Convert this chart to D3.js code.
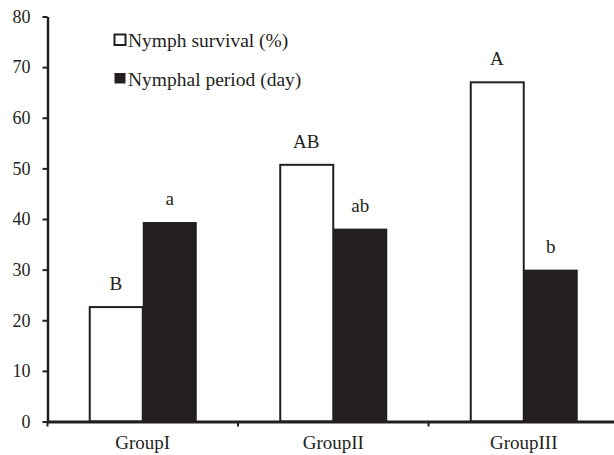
<!DOCTYPE html>
<html><head><meta charset="utf-8">
<script src="https://cdn.jsdelivr.net/npm/d3@7"></script>
<style>body{margin:0;background:#fff}svg{display:block}</style>
</head><body>
<script>
const groups = ["GroupI", "GroupII", "GroupIII"];
const seriesNames = ["Nymph survival (%)", "Nymphal period (day)"];
const survival = [22.6, 50.7, 67.0];
const period = [39.4, 38.1, 30.0];
const survivalLetters = ["B", "AB", "A"];
const periodLetters = ["a", "ab", "b"];
const yTicks = [0, 10, 20, 30, 40, 50, 60, 70, 80];

const W = 614, H = 455;
const dark = "#231f20";
const FONT = "Liberation Serif";
const svg = d3.select("body").append("svg").attr("width", W).attr("height", H)
  .attr("font-family", FONT);

const x0 = 47.5, band = 190.5;
const x = d3.scaleBand().domain(groups).range([x0, x0 + band * 3]).padding(0);
const xs = d3.scaleBand().domain(seriesNames).range([0, x.bandwidth()]).paddingInner(0).paddingOuter(0.764);
const y = d3.scaleLinear().domain([0, 80]).range([421.5, 16.5]);

const data = groups.map((g, i) => ({g, vals: [
  {s: seriesNames[0], v: survival[i], l: survivalLetters[i]},
  {s: seriesNames[1], v: period[i], l: periodLetters[i]}]}));

const gg = svg.selectAll("g.grp").data(data).enter().append("g")
  .attr("transform", d => `translate(${x(d.g)},0)`);
gg.selectAll("rect").data(d => d.vals).enter().append("rect")
  .attr("x", d => xs(d.s) + (d.s === seriesNames[0] ? 1 : 0))
  .attr("width", d => xs.bandwidth() - (d.s === seriesNames[0] ? 1 : 0))
  .attr("y", d => y(d.v))
  .attr("height", d => y(0) - y(d.v))
  .attr("fill", d => d.s === seriesNames[0] ? "#fff" : dark)
  .attr("stroke", d => d.s === seriesNames[0] ? dark : "none")
  .attr("stroke-width", 2);
gg.selectAll("text.lab").data(d => d.vals).enter().append("text")
  .attr("x", d => xs(d.s) + xs.bandwidth() / 2)
  .attr("y", d => y(d.v) - 17)
  .attr("text-anchor", "middle")
  .attr("font-family", FONT).attr("font-size", 19).attr("fill", dark)
  .text(d => d.l);

// Y axis
const ya = svg.append("g").attr("transform", `translate(${x0},0)`)
  .call(d3.axisLeft(y).tickValues(yTicks).tickSize(5).tickPadding(12).tickSizeOuter(0));
ya.attr("font-family", FONT).attr("font-size", 18);
ya.select(".domain").attr("stroke", dark).attr("stroke-width", 2.5);
ya.selectAll(".tick line").attr("stroke", dark).attr("stroke-width", 2);
ya.selectAll(".tick text").attr("font-family", FONT).attr("font-size", 18).attr("fill", dark);

// X axis
const xa = svg.append("g").attr("transform", `translate(0,${y(0)})`)
  .call(d3.axisBottom(x).tickSize(0).tickPadding(14));
xa.attr("font-family", FONT).attr("font-size", 19);
xa.select(".domain").attr("stroke", dark).attr("stroke-width", 3);
xa.selectAll(".tick text").attr("font-family", FONT).attr("font-size", 19).attr("fill", dark);
// boundary ticks
const bounds = groups.map(g => x(g));
svg.append("g").selectAll("line").data(bounds).enter().append("line")
  .attr("x1", d => d).attr("x2", d => d)
  .attr("y1", y(0)).attr("y2", y(0) + 5)
  .attr("stroke", dark).attr("stroke-width", 2);

// Legend
const lg = svg.append("g");
seriesNames.forEach((s, i) => {
  const ly = 40 + i * 38.5;
  lg.append("rect").attr("x", 114.5).attr("y", ly - 5.5).attr("width", 11).attr("height", 10.5)
    .attr("fill", i === 0 ? "#fff" : dark).attr("stroke", dark).attr("stroke-width", i === 0 ? 2 : 0);
  lg.append("text").attr("x", 128).attr("y", ly + 7).attr("fill", dark)
    .attr("font-family", FONT).attr("font-size", 19.5).text(s);
});
</script>
</body></html>
